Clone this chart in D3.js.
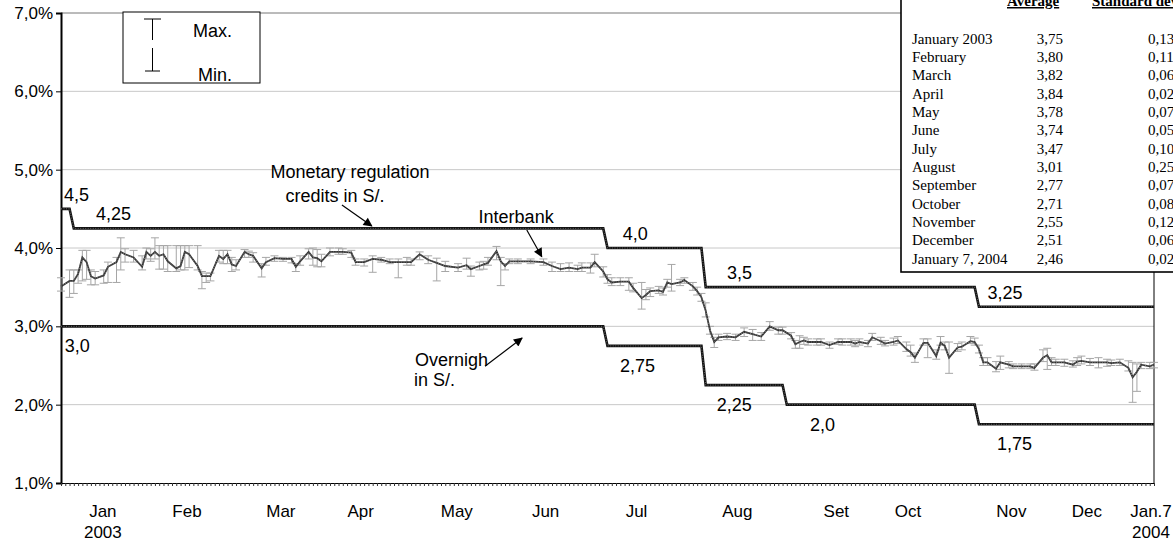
<!DOCTYPE html>
<html>
<head>
<meta charset="utf-8">
<script src="https://cdn.jsdelivr.net/npm/d3@7/dist/d3.min.js"></script>
<style>
body { margin: 0; background: #fff; }
text { font-family: "Liberation Sans", Arial, sans-serif; }
.tbl text { font-family: "Liberation Serif", "Times New Roman", serif; font-size: 15px; }
</style>
</head>
<body>
<svg id="chart" width="1173" height="543"></svg>
<script>
// business day index (0 = Jan 2 2003 ... 256 = Jan 7 2004)
const obsDay = [0,2,3,4,5,6,7,8,10,11,13,14,15,17,19,20,21,22,23,24,25,27,28,29,30,32,33,34,35,37,38,39,40,41,43,44,45,47,48,50,52,54,55,56,58,59,60,61,63,65,66,68,69,71,73,75,77,79,81,82,84,86,88,90,93,95,96,98,99,100,102,103,104,105,107,110,113,115,117,119,121,122,124,125,127,128,129,131,133,134,136,137,138,140,141,142,143,145,146,148,149,150,151,152,153,154,156,158,160,162,164,166,168,169,171,172,173,174,175,177,178,180,182,183,185,186,187,189,190,192,193,195,196,198,199,200,202,203,205,206,207,208,210,211,213,214,215,216,217,219,220,222,223,225,227,228,230,231,232,233,235,237,238,239,241,243,245,246,248,250,251,252,253,255,256]
const interbank = [3.51,3.58,3.58,3.67,3.88,3.82,3.64,3.61,3.65,3.76,3.82,3.95,3.92,3.88,3.76,3.95,3.90,3.95,3.90,3.92,3.83,3.74,3.77,3.95,3.92,3.77,3.64,3.64,3.64,3.90,3.86,3.92,3.79,3.77,3.95,3.92,3.90,3.74,3.82,3.87,3.86,3.86,3.76,3.83,3.95,3.88,3.87,3.83,3.95,3.95,3.95,3.94,3.82,3.82,3.86,3.85,3.82,3.82,3.82,3.82,3.92,3.85,3.81,3.77,3.75,3.78,3.73,3.77,3.79,3.81,3.96,3.83,3.77,3.83,3.83,3.83,3.82,3.77,3.73,3.75,3.73,3.75,3.75,3.82,3.70,3.60,3.56,3.57,3.57,3.49,3.36,3.40,3.45,3.46,3.44,3.56,3.54,3.56,3.59,3.51,3.45,3.37,3.20,2.95,2.80,2.86,2.87,2.86,2.93,2.90,2.87,3.00,2.95,2.95,2.88,2.77,2.80,2.82,2.80,2.80,2.80,2.76,2.80,2.80,2.80,2.78,2.80,2.78,2.86,2.81,2.78,2.80,2.82,2.71,2.67,2.60,2.79,2.79,2.62,2.79,2.75,2.60,2.73,2.74,2.81,2.80,2.71,2.54,2.54,2.46,2.54,2.51,2.49,2.49,2.49,2.47,2.60,2.63,2.54,2.54,2.54,2.51,2.55,2.56,2.54,2.54,2.54,2.53,2.54,2.47,2.35,2.42,2.51,2.49,2.51]
const interbankMin = [3.45,3.37,3.42,3.55,3.58,3.60,3.53,3.53,3.55,3.56,3.56,3.72,3.82,3.82,3.72,3.86,3.83,3.86,3.73,3.73,3.70,3.70,3.72,3.72,3.75,3.72,3.48,3.56,3.58,3.82,3.80,3.80,3.70,3.72,3.88,3.88,3.82,3.63,3.78,3.83,3.83,3.81,3.70,3.78,3.86,3.78,3.76,3.76,3.90,3.92,3.92,3.88,3.78,3.77,3.69,3.82,3.80,3.62,3.78,3.78,3.85,3.80,3.58,3.70,3.70,3.73,3.64,3.72,3.73,3.78,3.85,3.52,3.72,3.80,3.80,3.80,3.78,3.70,3.70,3.70,3.70,3.70,3.68,3.76,3.63,3.55,3.52,3.52,3.46,3.44,3.22,3.34,3.38,3.42,3.40,3.50,3.45,3.52,3.55,3.46,3.40,3.32,3.12,2.90,2.73,2.82,2.83,2.82,2.87,2.82,2.82,2.95,2.90,2.90,2.84,2.72,2.72,2.77,2.76,2.76,2.76,2.72,2.77,2.76,2.76,2.74,2.76,2.74,2.82,2.77,2.75,2.76,2.78,2.68,2.62,2.54,2.76,2.60,2.58,2.76,2.70,2.40,2.68,2.70,2.78,2.76,2.66,2.50,2.50,2.42,2.45,2.47,2.46,2.46,2.46,2.44,2.55,2.45,2.50,2.50,2.49,2.48,2.50,2.52,2.50,2.47,2.49,2.50,2.50,2.43,2.03,2.17,2.46,2.46,2.47]
const interbankMax = [3.62,3.72,3.72,3.72,3.97,3.97,3.72,3.70,3.72,3.82,3.88,4.13,3.99,3.97,3.90,4.00,3.99,4.13,4.03,4.03,4.03,4.03,4.03,4.03,4.03,4.03,3.70,3.68,3.68,3.97,3.97,3.97,3.88,3.85,3.98,3.96,3.94,3.80,3.88,3.90,3.88,3.88,3.80,3.90,3.99,4.00,3.98,3.92,4.00,4.00,3.99,3.97,3.86,3.86,3.90,3.88,3.86,3.86,3.88,3.86,3.95,3.90,3.87,3.83,3.80,3.87,3.77,3.82,3.83,3.88,4.02,3.88,3.80,3.86,3.86,3.86,3.86,3.82,3.80,3.81,3.78,3.81,3.81,3.92,3.76,3.66,3.62,3.62,3.62,3.55,3.56,3.47,3.49,3.51,3.49,3.60,3.79,3.60,3.62,3.56,3.50,3.42,3.30,3.00,2.86,2.90,2.91,2.90,2.98,2.96,2.92,3.06,2.99,2.99,2.92,2.82,2.88,2.86,2.84,2.84,2.84,2.80,2.84,2.84,2.84,2.82,2.84,2.82,2.91,2.86,2.82,2.85,2.87,2.80,2.76,2.66,2.84,2.84,2.70,2.87,2.80,2.80,2.78,2.80,2.87,2.85,2.76,2.60,2.60,2.55,2.62,2.55,2.52,2.52,2.52,2.52,2.70,2.72,2.60,2.58,2.58,2.56,2.60,2.62,2.59,2.60,2.58,2.57,2.58,2.56,2.54,2.52,2.54,2.54,2.54]

// policy rates as [first day, last day, rate]
const creditSteps = [[0, 2, 4.5], [3, 127, 4.25], [128, 150, 4.0], [151, 214, 3.5], [215, 256, 3.25]]
const overnightSteps = [[0, 127, 3.0], [128, 150, 2.75], [151, 169, 2.25], [170, 214, 2.0], [215, 256, 1.75]]
const creditLabelDays = [0.7, 8.2, 131.6, 156, 217]
const overnightLabelDays = [0.9, 130.9, 153.6, 175.4, 219.2]

const yTicks = [1, 2, 3, 4, 5, 6, 7]
const monthLabels = ['Jan', 'Feb', 'Mar', 'Apr', 'May', 'Jun', 'Jul', 'Aug', 'Set', 'Oct', 'Nov', 'Dec', 'Jan.7']
const monthLabelDays = [9.8, 29.5, 51.5, 70.2, 92.7, 113.5, 134.8, 158.4, 181.6, 198.4, 222.6, 240.3, 255.3]
const yearLabels = ['2003', '', '', '', '', '', '', '', '', '', '', '', '2004']

const tableMonths = ['January 2003', 'February', 'March', 'April', 'May', 'June', 'July', 'August', 'September', 'October', 'November', 'December', 'January 7, 2004']
const tableAvg = ['3,75', '3,80', '3,82', '3,84', '3,78', '3,74', '3,47', '3,01', '2,77', '2,71', '2,55', '2,51', '2,46']
const tableStd = ['0,13', '0,11', '0,06', '0,02', '0,07', '0,05', '0,10', '0,25', '0,07', '0,08', '0,12', '0,06', '0,02']

const svg = d3.select('#chart')
const x = d3.scaleLinear().domain([0, 256]).range([61, 1154])
const y = d3.scaleLinear().domain([1, 7]).range([483, 13])
const fmtRate = v => (v % 1 === 0 ? v.toFixed(1) : String(v)).replace('.', ',')

const defs = svg.append('defs')
defs.append('marker')
    .attr('id', 'head')
    .attr('viewBox', '0 0 10 10')
    .attr('refX', 9).attr('refY', 5)
    .attr('markerWidth', 11).attr('markerHeight', 9)
    .attr('markerUnits', 'userSpaceOnUse')
    .attr('orient', 'auto')
    .append('path').attr('d', 'M0,0L10,5L0,10Z').attr('fill', '#000')

// grid
svg.append('g').selectAll('line')
    .data(yTicks.slice(1))
    .join('line')
    .attr('x1', x(0)).attr('x2', x(256))
    .attr('y1', y).attr('y2', y)
    .attr('stroke', d => d === 7 ? '#777' : '#c8c8c8')
    .attr('stroke-width', 1)
svg.append('line')
    .attr('x1', x(256)).attr('x2', x(256)).attr('y1', y(7)).attr('y2', y(1))
    .attr('stroke', '#000')

// axes
const yAxis = svg.append('g')
    .attr('transform', `translate(${x(0)},0)`)
    .call(d3.axisLeft(y).tickValues(yTicks).tickSize(5).tickPadding(3)
        .tickFormat(d => fmtRate(d) + '%'))
yAxis.select('.domain').attr('stroke-width', 2)
yAxis.selectAll('text').attr('font-size', 17).attr('font-family', '"Liberation Sans", Arial, sans-serif').attr('fill', '#000')

const xAxis = svg.append('g')
    .attr('transform', `translate(0,${y(1)})`)
    .call(d3.axisBottom(x).tickValues(d3.range(0, 257)).tickSize(3).tickSizeOuter(0).tickFormat(''))
xAxis.selectAll('.tick line').attr('stroke', '#333')

svg.append('g').selectAll('text')
    .data(monthLabels)
    .join('text')
    .attr('x', (d, i) => x(monthLabelDays[i]))
    .attr('y', 517)
    .attr('text-anchor', 'middle')
    .attr('font-size', 17)
    .text(d => d)
svg.append('g').selectAll('text')
    .data(yearLabels)
    .join('text')
    .attr('x', (d, i) => x(monthLabelDays[i]))
    .attr('y', 538)
    .attr('text-anchor', 'middle')
    .attr('font-size', 17)
    .text(d => d)

// policy rate step lines
const stepPoints = steps => steps.flatMap(([a, b, v]) => [[a, v], [b, v]])
const line = d3.line().x(d => x(d[0])).y(d => y(d[1]))
;[creditSteps, overnightSteps].forEach(steps => {
    svg.append('path')
        .attr('d', line(stepPoints(steps)))
        .attr('fill', 'none').attr('stroke', '#111').attr('stroke-width', 2.6)
    svg.append('path')
        .attr('d', line(stepPoints(steps)))
        .attr('fill', 'none').attr('stroke', '#fff').attr('stroke-opacity', 0.45)
        .attr('stroke-width', 0.8).attr('stroke-dasharray', '1 1.5')
})

const labelGroup = svg.append('g').attr('font-size', 18)
labelGroup.selectAll('text.credit')
    .data(creditSteps)
    .join('text')
    .attr('class', 'credit')
    .attr('x', (d, i) => x(creditLabelDays[i]))
    .attr('y', d => y(d[2]) - 8)
    .text(d => fmtRate(d[2]))
labelGroup.selectAll('text.over')
    .data(overnightSteps)
    .join('text')
    .attr('class', 'over')
    .attr('x', (d, i) => x(overnightLabelDays[i]))
    .attr('y', d => y(d[2]) + 26)
    .text(d => fmtRate(d[2]))

// interbank with max/min bars
const bars = svg.append('g').attr('stroke', '#a6a6a6').attr('stroke-width', 1)
obsDay.forEach((d, i) => {
    const cx = x(d)
    bars.append('line').attr('x1', cx).attr('x2', cx).attr('y1', y(interbankMin[i])).attr('y2', y(interbankMax[i]))
    bars.append('line').attr('x1', cx - 4).attr('x2', cx + 4).attr('y1', y(interbankMin[i])).attr('y2', y(interbankMin[i]))
    bars.append('line').attr('x1', cx - 4).attr('x2', cx + 4).attr('y1', y(interbankMax[i])).attr('y2', y(interbankMax[i]))
})
const ibLine = d3.line().x((d, i) => x(obsDay[i])).y(d => y(d))
svg.append('path')
    .attr('d', ibLine(interbank))
    .attr('fill', 'none').attr('stroke', '#333').attr('stroke-width', 1.8)
svg.append('path')
    .attr('d', ibLine(interbank))
    .attr('fill', 'none').attr('stroke', '#999').attr('stroke-width', 0.7).attr('stroke-dasharray', '1 1.5')

// annotations (day, rate coordinates)
const note = (txt, d, v, anchor) => svg.append('text')
    .attr('x', x(d)).attr('y', y(v)).attr('font-size', 18)
    .attr('text-anchor', anchor).text(txt)
const arrow = (d1, v1, d2, v2) => svg.append('line')
    .attr('x1', x(d1)).attr('y1', y(v1)).attr('x2', x(d2)).attr('y2', y(v2))
    .attr('stroke', '#000').attr('stroke-width', 1.2).attr('marker-end', 'url(#head)')
note('Monetary regulation', 67.7, 4.89, 'middle')
note('credits in S/.', 64.2, 4.59, 'middle')
arrow(65.8, 4.55, 72.8, 4.28)
note('Interbank', 106.6, 4.32, 'middle')
arrow(109.1, 4.23, 112.6, 3.89)
note('Overnigh', 82.9, 2.49, 'start')
note('in S/.', 82.7, 2.24, 'start')
arrow(99.3, 2.49, 108, 2.85)

// legend box
const lg = svg.append('g')
lg.append('rect').attr('x', 123).attr('y', 12).attr('width', 137).attr('height', 71)
    .attr('fill', '#fff').attr('stroke', '#000')
lg.append('path').attr('d', 'M144,19H161M152.5,19V40M152.5,48V71M145,71H160')
    .attr('stroke', '#000').attr('fill', 'none')
lg.append('text').attr('x', 193).attr('y', 37).attr('font-size', 18).text('Max.')
lg.append('text').attr('x', 198).attr('y', 81).attr('font-size', 18).text('Min.')

// statistics table
const tb = svg.append('g').attr('class', 'tbl')
tb.append('rect').attr('x', 901).attr('y', -3).attr('width', 290).attr('height', 275)
    .attr('fill', '#fff').attr('stroke', '#000').attr('stroke-width', 1.6)
tb.append('text').attr('x', 1007).attr('y', 6).attr('font-weight', 'bold')
    .attr('text-decoration', 'underline').text('Average')
tb.append('text').attr('x', 1092).attr('y', 6).attr('font-weight', 'bold')
    .attr('text-decoration', 'underline').text('Standard deviation')
tb.selectAll('text.m').data(tableMonths).join('text').attr('class', 'm')
    .attr('x', 912).attr('y', (d, i) => 43.5 + i * 18.35).text(d => d)
tb.selectAll('text.a').data(tableAvg).join('text').attr('class', 'a')
    .attr('x', 1063).attr('y', (d, i) => 43.5 + i * 18.35).attr('text-anchor', 'end').text(d => d)
tb.selectAll('text.s').data(tableStd).join('text').attr('class', 's')
    .attr('x', 1148).attr('y', (d, i) => 43.5 + i * 18.35).text(d => d)
</script>
</body>
</html>
